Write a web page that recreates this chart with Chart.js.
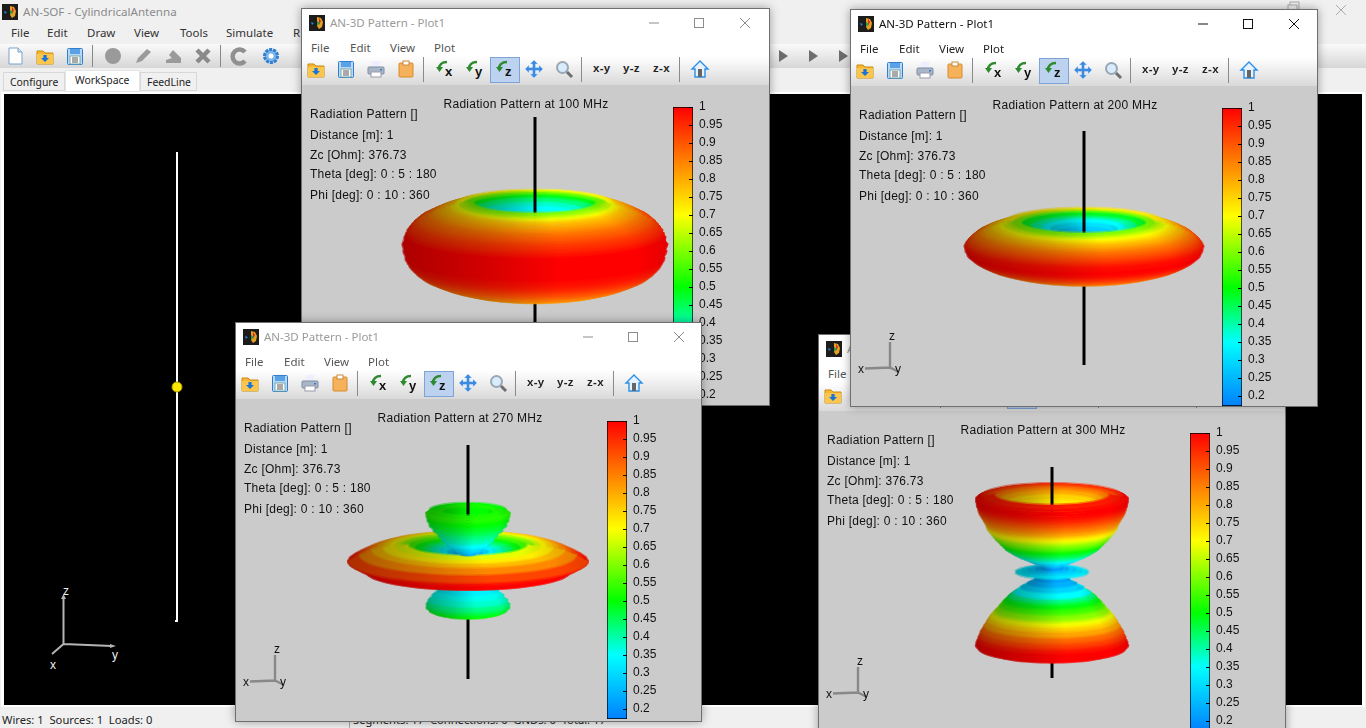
<!DOCTYPE html>
<html><head><meta charset="utf-8">
<script src="https://cdn.jsdelivr.net/npm/chart.js@4"></script>
<style>
html,body{margin:0;padding:0;width:1366px;height:728px;overflow:hidden;background:#f0f0f0;font-family:"Noto Sans",sans-serif;font-size:11.5px;color:#111}
.a{position:absolute;white-space:nowrap}
.win{position:absolute;background:#fff;outline:1px solid #6f6f6f;outline-offset:-1px;overflow:hidden;box-shadow:0 0 9px rgba(0,0,0,.35)}
.chrome{position:absolute;left:1px;top:1px;width:0;height:0;z-index:3}
.tb{position:absolute;left:1px;right:1px;top:48px;height:29px;background:linear-gradient(#fff,#fafafa 15%,#d9d9d9)}
.plot{position:absolute;left:1px;right:1px;top:77px;bottom:1px;background:#cbcbcb}
canvas{position:absolute;display:block}
</style></head><body>
<div id="root"></div>
<script>
const colorbarTicks=[1,0.95,0.9,0.85,0.8,0.75,0.7,0.65,0.6,0.55,0.5,0.45,0.4,0.35,0.3,0.25,0.2];
const colorbarMin=0.172, colorbarMax=1;
const colorStopValues=[0.172,0.35,0.5,0.7,0.85,1];
const colorStopRgb=[[0,128,255],[0,255,255],[0,255,0],[255,255,0],[255,128,0],[255,0,0]];
const infoLines=["Radiation Pattern []","Distance [m]: 1","Zc [Ohm]: 376.73","Theta [deg]: 0 : 5 : 180","Phi [deg]: 0 : 10 : 360"];

// 100 MHz: rows (height above centre, ring half-width, colour value)
const p100OuterZ=[45,44.5,44,43,42,41,40,38.5,37,35,33,30.5,28,25.5,23,20,17,13.5,10,3,-4,-11,-14.5,-18,-21,-24,-26.5,-29,-31,-33,-35,-37,-38.5,-40,-41.5,-43,-46];
const p100OuterR=[62,66,70,75,80,84,88,92.5,97,101.5,106,111,116,119,122,124.5,127,128.5,130,132,131,129,127,125,122,119,115.5,112,107.5,103,98,93,87.5,82,76,70,55];
const p100OuterV=[.60,.63,.65,.69,.73,.76,.78,.80,.82,.845,.87,.89,.91,.93,.945,.96,.98,1,1,1,1,.99,.98,.965,.95,.93,.915,.90,.885,.87,.86,.85,.84,.83,.82,.81,.80];
const p100InnerZ=[43,42,40,38,35,32,28,24];
const p100InnerR=[78,72,66,60,53,46,38,30];
const p100InnerV=[.70,.58,.49,.43,.38,.35,.33,.31];
const p100AxisTop=[130,20], p100AxisBottom=[-46,-128];
// 200 MHz
const p200OuterZ=[25.5,25,24.5,24,23,22,21,20,18.5,17,15,13,11,9,7,5,3,1,-3,-7,-11,-13,-15,-17,-19,-22,-25,-27,-29];
const p200OuterR=[64,70,73,76,80,84,88,92,96,100,104,108,110.5,113,115,117,118,119,118,116,111,107.5,104,99.5,95,85,73,60,45];
const p200OuterV=[.60,.63,.65,.67,.70,.73,.75,.78,.80,.83,.86,.88,.90,.92,.94,.96,.98,.99,1,.99,.96,.95,.93,.91,.89,.86,.83,.81,.80];
const p200InnerZ=[25,24,23,21,20,18,15,12];
const p200InnerR=[78,70,62,52,42,33,26,20];
const p200InnerV=[.72,.60,.48,.41,.35,.31,.28,.25];
const p200AxisTop=[116,12], p200AxisBottom=[-29,-118];
// 270 MHz
const p270LobeZ=[-22,-29,-34,-39,-43,-46,-49,-51,-53];
const p270LobeR=[24,30,35,39,41,41,38,33,25];
const p270LobeV=[.33,.36,.38,.42,.45,.48,.5,.52,.52];
const p270UnderZ=[0,-4,-10,-12,-15,-18,-21];
const p270UnderR=[119.5,112,102,90,72,52,30];
const p270UnderV=[.98,1,1,.98,.95,.92,.9];
const p270TopZ=[0,3,6,9,11,13,14,15,15,15,14,13,12,11,10,9,8];
const p270TopR=[119.5,114,108,102,96,90,84,78,72,66,60,52,44,36,28,20,14];
const p270TopV=[.98,.95,.91,.87,.83,.79,.75,.71,.66,.60,.55,.49,.44,.39,.34,.29,.24];
const p270FrontZ=[16,15,13,11,6,0];
const p270FrontR=[60,72,84,96,108,119.5];
const p270FrontV=[.68,.72,.78,.84,.92,.98];
const p270BowlZ=[51.5,50,48,45,41,36,31,26,21,16,11,7];
const p270BowlR=[33,38,41.5,41,40,38,34,29,25,20,14,7];
const p270BowlV=[.52,.53,.52,.50,.48,.45,.42,.39,.35,.30,.25,.2];
const p270BowlInnerZ=[51,50,49];
const p270BowlInnerR=[38,32,24];
const p270BowlInnerV=[.50,.52,.5];
const p270AxisTop=[116,30], p270AxisBottom=[-53,-118];
// 300 MHz
const p300LobeZ=[-4,-7,-11,-15,-20,-23,-25,-28,-30,-33,-35,-38,-40,-43,-45,-48,-50,-53,-55,-58,-60,-63,-65,-68,-70,-73,-76,-79,-81];
const p300LobeR=[10,17,24,31,38,42,44,47,49,51.5,53,56,58,60.5,62,64,65,67,68,70,71,72,73,74,75,75.7,73,62,45];
const p300LobeV=[.22,.24,.29,.35,.42,.46,.49,.53,.55,.59,.61,.65,.69,.73,.76,.80,.81,.86,.88,.91,.93,.96,.98,1,1,1,1,.98,.96];
const p300DiscZ=[0,1,2,3,4];
const p300DiscR=[36,30,24,16,10];
const p300DiscV=[.33,.31,.28,.24,.2];
const p300BowlZ=[77.5,76,74,71.5,69,66.5,64,61.5,59,56.5,54,51.5,49,46.5,44,41.5,39,36.5,34,31.5,29,26.5,24,21.5,19,16.5,14,12,10,6];
const p300BowlR=[58,68,75.5,75.5,75,74.5,73.5,73,72,70.5,69,67.5,66,65,64,62,60,58,56,53.5,51,48.5,46,42,38,33,27,22.5,18,9];
const p300BowlV=[.97,.99,1,1,.99,.97,.95,.92,.90,.87,.85,.82,.79,.74,.71,.67,.63,.60,.57,.54,.50,.47,.45,.42,.39,.35,.32,.29,.27,.23];
const p300BowlInnerZ=[76,75,74,72,69,65,60];
const p300BowlInnerR=[70,64,58,52,46,40,32];
const p300BowlInnerV=[.95,.9,.85,.8,.75,.72,.7];
const p300AxisTop=[105,60], p300AxisBottom=[-81,-106];

// antenna in the workspace
const wireX=[0,0], wireZ=[-1,1], sourceX=[0], sourceZ=[0];

const TILT=0.18;
function rgbOf(v){
  const s=colorStopValues,c=colorStopRgb;
  if(v<=s[0])return c[0];
  for(let i=1;i<s.length;i++) if(v<=s[i]){const f=(v-s[i-1])/(s[i]-s[i-1]);return c[i-1].map((a,k)=>a+(c[i][k]-a)*f);}
  return c[c.length-1];
}
const css=(c,f,al=1)=>`rgba(${c.map(a=>Math.round(a*f)).join(',')},${al})`;
const LIGHT=[[0,.68],[.3,.82],[.6,1],[.88,1],[1,.9]];
function shaded(v,r,al=1){return ctx=>{
  const ch=ctx.chart,sc=ch.options.scales.x,c=rgbOf(v);
  const px=x=>(x-sc.min)*ch.width/(sc.max-sc.min);
  const g=ch.ctx.createLinearGradient(px(-r),0,px(r),0);
  LIGHT.forEach(([p,f])=>g.addColorStop(p,css(c,f,al)));
  return g;
};}
const STEPS=36;
function arc(z,r,from,to){
  const pts=[];
  for(let i=0;i<=STEPS;i++){const a=from+(to-from)*i/STEPS;pts.push({x:r*Math.cos(a),y:z-TILT*r*Math.sin(a)});}
  return pts;
}
function fillDs(pts,v,r,soft){return {type:'line',data:pts,fill:'shape',backgroundColor:shaded(v,r),borderColor:shaded(v,r,soft?.5:1),borderWidth:soft?3:1,borderJoinStyle:'round',borderCapStyle:'round',pointRadius:0,tension:0};}
function discs(out,Z,R,V,rev){
  const idx=Z.map((_,i)=>i); if(rev)idx.reverse();
  idx.forEach(i=>out.push(fillDs(arc(Z[i],R[i],0,2*Math.PI),V[i],R[i],!rev)));
}
function bands(out,Z,R,V){
  for(let i=Z.length-2;i>=0;i--){
    const pts=arc(Z[i],R[i],0,Math.PI).concat(arc(Z[i+1],R[i+1],Math.PI,0));
    out.push(fillDs(pts,V[i],Math.max(R[i],R[i+1]),true));
  }
}
function axisLine(out,Zs){out.push({type:'line',data:Zs.map(z=>({x:0,y:z})),borderColor:'#000',backgroundColor:'#000',borderWidth:3,pointRadius:0,fill:false});}

function build100(){const o=[];axisLine(o,p100AxisBottom);discs(o,p100OuterZ,p100OuterR,p100OuterV,true);discs(o,p100InnerZ,p100InnerR,p100InnerV);axisLine(o,p100AxisTop);bands(o,p100OuterZ,p100OuterR,p100OuterV);return o;}
function build200(){const o=[];axisLine(o,p200AxisBottom);discs(o,p200OuterZ,p200OuterR,p200OuterV,true);discs(o,p200InnerZ,p200InnerR,p200InnerV);axisLine(o,p200AxisTop);bands(o,p200OuterZ,p200OuterR,p200OuterV);return o;}
function build270(){const o=[];axisLine(o,p270AxisBottom);
  discs(o,p270LobeZ,p270LobeR,p270LobeV,true);bands(o,p270LobeZ,p270LobeR,p270LobeV);
  discs(o,p270UnderZ,p270UnderR,p270UnderV,true);bands(o,p270UnderZ,p270UnderR,p270UnderV);
  discs(o,p270TopZ,p270TopR,p270TopV);bands(o,p270FrontZ,p270FrontR,p270FrontV);
  discs(o,p270BowlZ,p270BowlR,p270BowlV,true);discs(o,p270BowlInnerZ,p270BowlInnerR,p270BowlInnerV);
  axisLine(o,p270AxisTop);bands(o,p270BowlZ,p270BowlR,p270BowlV);return o;}
function build300(){const o=[];axisLine(o,p300AxisBottom);
  discs(o,p300LobeZ,p300LobeR,p300LobeV,true);bands(o,p300LobeZ,p300LobeR,p300LobeV);
  discs(o,p300DiscZ,p300DiscR,p300DiscV);
  discs(o,p300BowlZ,p300BowlR,p300BowlV,true);discs(o,p300BowlInnerZ,p300BowlInnerR,p300BowlInnerV);
  axisLine(o,p300AxisTop);bands(o,p300BowlZ,p300BowlR,p300BowlV);return o;}

// ---- icons
const svg=(w,h,body,st='')=>`<svg class="a" width="${w}" height="${h}" viewBox="0 0 ${w} ${h}" style="${st}">${body}</svg>`;
const I={
 folder:`<path d="M1 4h6l2 2h8v11H1z" fill="#f7b733" stroke="#c98a10"/><path d="M1 7h16v10H1z" fill="#fbc64d"/><path d="M9 15l4-4h-2.4V8H7.4v3H5z" fill="#1a73d8"/>`,
 save:`<rect x="1.5" y="1.5" width="15" height="16" rx="1" fill="#bcd7f5" stroke="#2f7fd0"/><rect x="4" y="2" width="10" height="5" fill="#5aa2e6"/><rect x="4" y="9" width="10" height="8" fill="#fff" stroke="#7aa"/><path d="M6 11h6M6 13h6M6 15h6" stroke="#555"/>`,
 print:`<rect x="5" y="1" width="8" height="6" fill="#eef"/><rect x="1" y="7" width="16" height="7" rx="1" fill="#a9b6c8" stroke="#7f8da0"/><rect x="4" y="12" width="10" height="5" fill="#fff" stroke="#99a"/><rect x="13" y="9" width="2" height="1.5" fill="#3a78c8"/>`,
 clip:`<rect x="2" y="3" width="14" height="14" rx="1" fill="#f5b25a" stroke="#d68a2c"/><rect x="6" y="1" width="6" height="4" fill="#fff" stroke="#c98a3c"/>`,
 move:`<path d="M9 0l4 4h-2.5v3.5H14V5l4 4-4 4v-2.5h-3.5V14H13l-4 4-4-4h2.5v-3.5H4V13L0 9l4-4v2.5h3.5V4H5z" fill="#3d8be0" stroke="#cfe3fa" stroke-width=".5"/>`,
 zoom:`<circle cx="7.5" cy="7.5" r="5.5" fill="#d8ecfb" stroke="#9aa7b4" stroke-width="2"/><path d="M12 12l5 5" stroke="#6e6e6e" stroke-width="3"/>`,
 home:`<path d="M9 1L1 9h3v8h10V9h3z" fill="#e6f2fd" stroke="#2e8fe6" stroke-width="1.4"/><rect x="7" y="9" width="4" height="8" fill="#666"/>`,
 app:`<rect width="16" height="16" fill="#1c1c1c"/><path d="M8 2l4 1 2 4-1 5-3 2-2-3z" fill="#e8a020"/><path d="M10 3l2 3-2 4z" fill="#d02c2c"/><path d="M8 6l3 2-3 3z" fill="#28a040"/><path d="M2 7l3 1-2 2z" fill="#2f7fd0"/>`
};
const rotIcon=l=>`<path d="M11 2C6 2 3 5 3 9" fill="none" stroke="#2e8a2e" stroke-width="2.6"/><path d="M0 7h7l-3.5 5z" fill="#2e8a2e"/><text x="9" y="16" font-family="Liberation Sans" font-weight="700" font-size="13" fill="#111">${l}</text>`;
function icon(name,x,y,par){const b=I[name]||name;par.insertAdjacentHTML('beforeend',svg(18,18,b,`left:${x-9}px;top:${y-9}px;overflow:visible`));}
function text(par,t,x,y,st,cls){par.insertAdjacentHTML('beforeend',`<div class="a ${cls||''}" style="left:${x}px;top:${y}px;line-height:14px;margin-top:-7px;${st||''}">${t}</div>`);}
function box(par,x,y,w,h,st){par.insertAdjacentHTML('beforeend',`<div class="a" style="left:${x}px;top:${y}px;width:${w}px;height:${h}px;${st}"></div>`);}

const root=document.getElementById('root');
// ---- main application window
box(root,0,44,1366,24,'background:linear-gradient(#fafafa,#d6d6d6)');
text(root,'AN-SOF - CylindricalAntenna',23,12,'color:#8a8a8a;font-size:11.6px');
root.insertAdjacentHTML('beforeend',svg(16,16,I.app,'left:2px;top:4px'));
[['File',11],['Edit',47],['Draw',87],['View',134],['Tools',180],['Simulate',226],['R',293]].forEach(([t,x])=>text(root,t,x,33,'color:#333'));
icon(`<path d="M3 1h9l4 4v12H3z" fill="#fff" stroke="#7aa3c8"/><path d="M12 1v4h4" fill="#cfe0f2" stroke="#7aa3c8"/>`,15,56,root);
icon('folder',45,56,root);icon('save',75,56,root);
box(root,92,45,1,22,'background:#888');box(root,220,45,1,22,'background:#888');
icon(`<circle cx="9" cy="9" r="8" fill="#9a9a9a"/>`,113,56,root);
icon(`<path d="M2 16l2-5L13 2l4 3-9 9z" fill="#9a9a9a"/>`,143,56,root);
icon(`<path d="M2 16h15v-5L9 3 5 8l3 3-6 2z" fill="#9a9a9a"/>`,173,56,root);
icon(`<path d="M3 3l12 12M15 3L3 15" stroke="#8a8a8a" stroke-width="4.5"/>`,203,56,root);
icon(`<path d="M14 5A7 7 0 1 0 14 14" fill="none" stroke="#909090" stroke-width="4.5"/>`,240,56,root);
icon(`<circle cx="9" cy="9" r="6.5" fill="#7fb6ea" stroke="#2f7fd0" stroke-width="3" stroke-dasharray="3 1"/><circle cx="9" cy="9" r="2.5" fill="#fff"/>`,271,56,root);
[783,813,843].forEach(x=>icon(`<path d="M5 3l9 6-9 6z" fill="#6c6c6c"/>`,x,56,root));
icon(`<rect x="4" y="3" width="9" height="9" fill="none" stroke="#aaa"/><rect x="2" y="6" width="9" height="9" fill="#f0f0f0" stroke="#aaa"/>`,1295,8,root);
icon(`<path d="M4 4l10 10M14 4L4 14" stroke="#aaa"/>`,1341,10,root);
box(root,3,72,62,19,'background:#f0f0f0;border:1px solid #d8d8d8;box-sizing:border-box');
box(root,65,70,75,22,'background:#fff;border:1px solid #e4e4e4;box-sizing:border-box');
box(root,140,72,57,19,'background:#f0f0f0;border:1px solid #d8d8d8;box-sizing:border-box');
text(root,'Configure',10,82,'color:#222;font-size:10.4px');
text(root,'WorkSpace',75,80,'color:#222;font-size:10.4px');
text(root,'FeedLine',147,82,'color:#222;font-size:10.4px');
box(root,1,92,1364,615,'background:#fff');
box(root,4,94,1358,611,'background:#000');
text(root,'Wires: 1&nbsp; Sources: 1&nbsp; Loads: 0',2,720,'color:#222;font-size:11.2px');
box(root,349,709,1,19,'background:#aaa');
text(root,'Segments: 17&nbsp; Connections: 0&nbsp; GNDs: 0&nbsp; Total: 17',353,720,'color:#222;font-size:11.2px');
box(root,175,620,3,2,'background:#fff');

// workspace triad
root.insertAdjacentHTML('beforeend',svg(90,90,`<path d="M13.5 57V10M13.5 57L62 59M13.5 57L2 67" stroke="#b4b4b4" stroke-width="2" fill="none"/><path d="M11 12l2.5-5 2.5 5zM60 57l6 2-6 2z" fill="#b4b4b4"/><g font-family="Liberation Sans" font-size="12" fill="#eee"><text x="13" y="8">z</text><text x="62" y="72">y</text><text x="0" y="82">x</text></g>`,'left:50px;top:587px;overflow:visible'));

// antenna chart
const antWrap=document.createElement('canvas');
antWrap.width=40;antWrap.height=490;antWrap.style.cssText='left:157px;top:142px';
root.appendChild(antWrap);
new Chart(antWrap,{type:'line',data:{datasets:[
  {data:sourceX.map((x,i)=>({x,y:sourceZ[i]})),showLine:false,pointRadius:5,pointBackgroundColor:'#ffe600',pointBorderColor:'#a89a00',pointBorderWidth:1},
  {data:wireX.map((x,i)=>({x,y:wireZ[i]})),borderColor:'#fff',borderWidth:2,pointRadius:0}
]},options:{responsive:false,animation:false,layout:{padding:{top:10,bottom:10,left:0,right:0}},
 plugins:{legend:{display:false},tooltip:{enabled:false}},
 scales:{x:{type:'linear',display:false,min:-1,max:1},y:{type:'linear',display:false,min:-1,max:1}}}});

// ---- 3D pattern windows
const innerTicks={id:'innerTicks',afterDatasetsDraw(ch){
  const s=ch.scales.y,a=ch.chartArea,c=ch.ctx;c.save();c.strokeStyle='#000';c.lineWidth=1;
  s.ticks.forEach(t=>{const y=Math.round(s.getPixelForValue(t.value))+.5;c.beginPath();c.moveTo(a.right-4,y);c.lineTo(a.right,y);c.stroke();});c.restore();
}};
const spaced={id:'spaced',beforeDraw(ch){ch.ctx.letterSpacing='0.27px';}};

function colorbar(par){
  const c=document.createElement('canvas');c.width=64;c.height=314;c.style.cssText='left:372px;top:91px';par.appendChild(c);
  new Chart(c,{type:'bar',data:{labels:['scale'],datasets:[{data:[[colorbarMin,colorbarMax]],
    backgroundColor(ctx){const a=ctx.chart.chartArea;if(!a)return '#f00';
      const g=ctx.chart.ctx.createLinearGradient(0,a.bottom,0,a.top);
      colorStopValues.forEach((v,i)=>g.addColorStop((v-colorbarMin)/(colorbarMax-colorbarMin),css(colorStopRgb[i],1)));return g;},
    borderColor:'#000',borderWidth:1,borderSkipped:false,barPercentage:1,categoryPercentage:1}]},
   plugins:[innerTicks],
   options:{responsive:false,animation:false,layout:{padding:{top:8,bottom:8,left:0,right:0}},
    plugins:{legend:{display:false},tooltip:{enabled:false}},
    scales:{x:{display:false},
     y:{position:'right',min:colorbarMin,max:colorbarMax,
       afterBuildTicks(s){s.ticks=colorbarTicks.map(value=>({value}));},
       afterFit(s){s.width=44;s.paddingTop=0;s.paddingBottom=0;},
       border:{display:false},grid:{drawOnChartArea:false,drawTicks:false},
       ticks:{padding:6,color:'#111',font:{family:'"Liberation Sans"',size:12},callback:v=>String(v)}}}}});
}
function pattern(par,title,cx,zero,datasets){
  const W=450,H=321,top=77,areaTop=30;
  const c=document.createElement('canvas');c.width=W;c.height=H;c.style.cssText=`left:0;top:${top}px`;par.appendChild(c);
  new Chart(c,{type:'line',data:{datasets:datasets.slice().reverse()},plugins:[spaced],
   options:{responsive:false,animation:false,layout:{padding:0},
    plugins:{legend:{display:false},tooltip:{enabled:false},
      title:{display:true,text:title,color:'#111',font:{family:'"Liberation Sans"',size:12,weight:'normal'},padding:{top:12,bottom:3.6}}},
    scales:{x:{type:'linear',display:false,min:-cx,max:W-cx},
            y:{type:'linear',display:false,min:-(top+H-zero),max:zero-(top+areaTop)}}}});
}
function makeWindow(o){
  const w=document.createElement('div');w.className='win';
  w.style.cssText=`left:${o.left}px;top:${o.top}px;width:${o.w}px;height:${o.h}px;z-index:${o.z}`;
  root.appendChild(w);
  w.insertAdjacentHTML('beforeend',`<div class="tb"></div><div class="plot"></div>`);
  pattern(w,o.title,o.cx,o.zero,o.build());
  colorbar(w);
  const k=document.createElement('div');k.className='chrome';w.appendChild(k);
  k.insertAdjacentHTML('beforeend',svg(16,16,I.app,'left:7px;top:6px'));
  const tc=o.active?'#111':'#9a9a9a';
  text(k,'AN-3D Pattern - Plot1',28,14,`color:${tc};font-size:11.5px`);
  const bc=o.active?'#111':'#8c8c8c';
  k.insertAdjacentHTML('beforeend',svg(110,12,`<path d="M0 6h10" stroke="${bc}"/><rect x="45.5" y="1.5" width="9" height="9" fill="none" stroke="${bc}"/><path d="M91 1l10 10M101 1L91 11" stroke="${bc}"/>`,'left:347px;top:8px'));
  [['File',9],['Edit',48],['View',88],['Plot',132]].forEach(([t,x])=>text(k,t,x,39,`color:${o.active?'#222':'#555'}`));
  const iy=60;
  icon('folder',14,iy,k);icon('save',44,iy,k);icon('print',74,iy,k);icon('clip',104,iy,k);
  [121,279,377].forEach(x=>box(k,x,48,1,25,'background:#8a8a8a'));
  box(k,188,48,30,26,'background:#bcd2ee;border:1px solid #7ea3d8;box-sizing:border-box');
  icon(rotIcon('x'),143,iy,k);icon(rotIcon('y'),173,iy,k);icon(rotIcon('z'),203,iy,k);
  icon('move',232,iy,k);icon('zoom',262,iy,k);
  [['x-y',291],['y-z',321],['z-x',351]].forEach(([t,x])=>text(k,t,x,iy-1,'font-family:Liberation Sans;font-weight:700;font-size:11.5px;letter-spacing:.3px;color:#222'));
  icon('home',398,iy,k);
  infoLines.forEach((t,i)=>text(k,t,8,[105,126,146,165,186][i],'font-family:Liberation Sans;font-size:12px;letter-spacing:.25px;color:#111'));
  k.insertAdjacentHTML('beforeend',svg(60,50,`<path d="M32 2V27.5M32 27.5L7 28.5M32 27.5L41 32" stroke="#888" stroke-width="2.4" fill="none"/><g font-family="Liberation Sans" font-size="12" fill="#111"><text x="31" y="0">z</text><text x="0" y="33">x</text><text x="37" y="33">y</text></g>`,`left:7px;top:330px;overflow:visible`));
}
makeWindow({left:301,top:8,w:469,h:398,z:2,title:'Radiation Pattern at 100 MHz',cx:234,zero:239,build:build100});
makeWindow({left:818,top:334,w:468,h:420,z:3,title:'Radiation Pattern at 300 MHz',cx:234,zero:238,build:build300});
makeWindow({left:235,top:322,w:467,h:400,z:4,title:'Radiation Pattern at 270 MHz',cx:233,zero:239,build:build270});
makeWindow({left:850,top:9,w:468,h:398,z:5,active:true,title:'Radiation Pattern at 200 MHz',cx:234,zero:238,build:build200});
</script>
</body></html>
